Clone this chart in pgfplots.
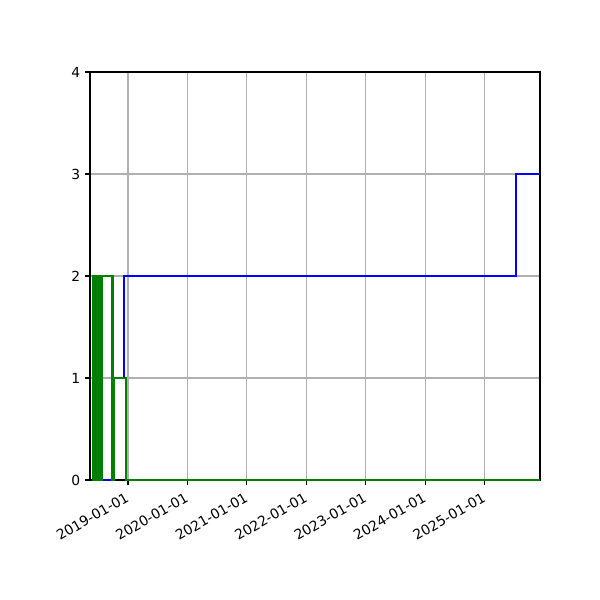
\documentclass[border=0pt]{standalone}
\usepackage{fontspec}
\setmainfont{DejaVu Sans}
\usepackage{pgfplots}
\usepackage{pgfplotstable}
\pgfplotsset{compat=1.18}

\definecolor{mplgreen}{RGB}{0,128,0}
\definecolor{mplblue}{RGB}{0,0,255}
\definecolor{mplgrid}{RGB}{176,176,176}

% x = days since 2019-01-01
\pgfplotstableread{
x y
-221 0
-214 2
-204 0
-89 1
-23 2
2384 3
2532 3
}\bluedata

\pgfplotstableread{
x y
-221 2
-215 0
-212 2
-209 0
-206 2
-203 0
-200 2
-197 0
-194 2
-191 0
-188 2
-185 0
-182 2
-179 0
-176 2
-173 0
-170 2
-167 0
-164 2
-161 0
-159 2
-100 0
-96 2
-92 0
-88 1
-15 0
2532 0
}\greendata

\begin{document}
\begin{tikzpicture}
\begin{axis}[
    scale only axis,
    width=337.5pt,
    height=306pt,
    xmin=-233.5, xmax=2532,
    ymin=0, ymax=4,
    xtick={0,365,731,1096,1461,1826,2192},
    xticklabels={2019-01-01,2020-01-01,2021-01-01,2022-01-01,2023-01-01,2024-01-01,2025-01-01},
    ytick={0,1,2,3,4},
    xtick pos=bottom,
    ytick pos=left,
    tick align=outside,
    major tick length=3.65pt,
    every tick/.style={black, line width=0.83pt},
    axis line style={black, line width=0.83pt},
    grid=major,
    grid style={mplgrid, line width=0.83pt},
    ticklabel style={font=\fontsize{10.4}{12}\selectfont},
    /pgf/number format/assume math mode=true,
    xticklabel style={rotate=30, anchor=north east, inner sep=1pt, yshift=-2pt, xshift=-3.5pt},
    yticklabel style={inner sep=1pt, xshift=-2.5pt},
    clip mode=individual,
]
\addplot[const plot, mplblue, line width=1.56pt] table[x=x, y=y] {\bluedata};
\addplot[const plot, mplgreen, line width=1.56pt] table[x=x, y=y] {\greendata};
\path (rel axis cs:-0.2,-0.294118) rectangle (rel axis cs:1.133333,1.176471);
\end{axis}
\end{tikzpicture}
\end{document}
